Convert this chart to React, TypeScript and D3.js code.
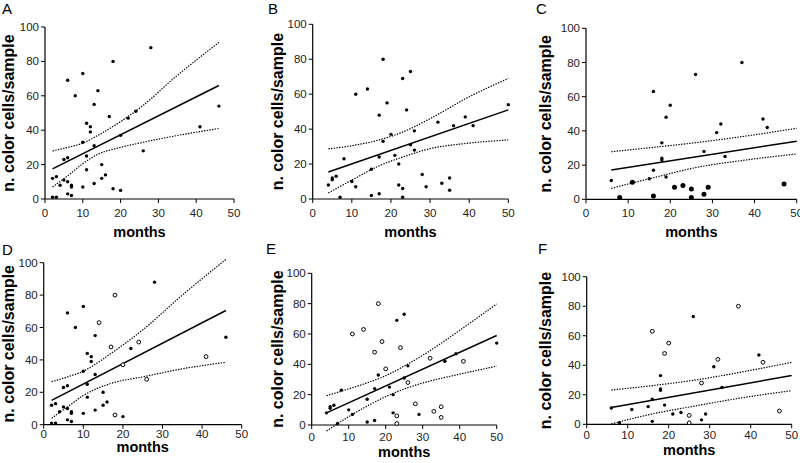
import React from 'react';
import * as d3 from 'd3';

// ---------- data ----------
// Panels A & D share the same samples
const monthsAD = [28,18,10,6,14,8,13,46,24,17,22,11,12,41,12,20,10,13,26,11,6,5,15,11,16,3,2,15,5,6,13,4,7,7,10,18,20,6,7,2,3];
const cellsAD  = [88,80,73,69,63,60,55,54,51,48,47,44,42,42,39,37,33,31,28,25,24,23,20,17,14,13,12,12,11,10,9,8,8,7,7,6,5,3,2,1,1];
const openD    = [0,1,0,0,1,0,0,0,1,1,0,0,0,1,0,1,0,0,1,0,0,0,0,0,0,0,0,0,0,0,0,0,0,0,0,1,0,0,0,0,0];

// Panels B & E share the same samples
const monthsBE = [18,25,23,14,11,19,50,24,17,39,32,36,41,26,20,18,25,26,21,17,8,22,15,28,6,35,5,5,10,11,4,22,33,29,23,35,17,15,7,23];
const cellsBE  = [80,73,69,63,60,55,54,51,48,47,44,42,42,39,37,33,31,28,25,24,23,20,17,14,13,12,12,11,10,7,8,8,9,7,6,5,3,2,1,1];
const openE    = [1,0,0,1,1,1,0,1,1,0,1,0,1,0,1,0,0,1,0,0,0,0,0,1,0,1,0,0,0,0,0,0,1,0,1,1,0,0,0,1];

// Panels C & F share the same samples
const monthsCF = [37,26,16,20,19,42,32,43,31,18,28,33,18,18,16,19,15,6,11,47,23,21,29,25,28,16,8,25];
const cellsCF  = [80,73,63,55,48,47,44,42,39,33,28,25,24,23,17,13,12,11,10,9,8,7,7,6,3,2,1,1];
const bigC     = [0,0,0,0,0,0,0,0,0,0,0,0,0,0,0,0,0,0,1,1,1,1,1,1,1,1,1,1];
const openF    = [1,0,1,1,1,0,1,1,0,0,1,0,0,0,0,0,0,0,0,1,0,0,0,1,0,0,0,1];

// Regression lines (end points) and 95% confidence bands
const fitXA = [2, 46];  const fitYA = [17.5, 66];
const fitXB = [4, 50];  const fitYB = [15.5, 51];
const fitXC = [6, 50];  const fitYC = [17.2, 34];
const fitXD = [2, 46];  const fitYD = [15, 70.5];
const fitXE = [4, 50];  const fitYE = [8, 59];
const fitXF = [6, 50];  const fitYF = [11.4, 33];

const bandXA = [2, 6, 10, 14, 20, 26, 34, 46];
const upperA = [28, 30, 32.5, 37, 45, 54.5, 70, 91];
const lowerA = [7, 13.5, 20.5, 26, 30, 33, 36.5, 41];

const bandXB = [4, 10, 17, 23, 30, 40, 50];
const upperB = [28.7, 30.5, 33.8, 38.3, 46, 58.5, 69];
const lowerB = [3.5, 10.8, 19, 24, 28.8, 32, 33.8];

const bandXC = [6, 16, 26, 38, 50];
const upperC = [27.8, 30.4, 33.1, 37, 41.5];
const lowerC = [6.4, 12.6, 18.5, 23, 26.5];

const bandXD = [2, 6, 10, 17, 25, 35, 46];
const upperD = [26.5, 29.5, 33, 44, 58.5, 80, 102];
const lowerD = [4, 11, 18, 25.5, 29.5, 34.5, 38.5];

const bandXE = [4, 10, 15, 20, 26, 32, 40, 50];
const upperE = [19.3, 23.8, 27.8, 32.5, 40.2, 49, 62.4, 79.8];
const lowerE = [-4, 5.5, 12.5, 18.7, 24.6, 29, 33.5, 38.8];

const bandXF = [6, 16, 26, 38, 50];
const upperF = [23.2, 26.2, 29.8, 35.5, 42];
const lowerF = [0.3, 7, 12.2, 18, 22.8];

const xTicks = [0, 10, 20, 30, 40, 50];
const yTicks = [0, 20, 40, 60, 80, 100];
const panelLetters = ['A', 'B', 'C', 'D', 'E', 'F'];
const yTitle = 'n. color cells/sample';
const xTitle = 'months';

// ---------- layout ----------
type Spec = {
  letter: string;
  xs: number[]; ys: number[]; open?: number[]; big?: number[];
  fitX: number[]; fitY: number[];
  bandX: number[]; upper: number[]; lower: number[];
  x0: number; x1: number; y0: number; y1: number;
  letterX: number; letterY: number; titleX: number; tickY: number; monthsY: number;
};

const FONT = '"Liberation Sans", Arial, Helvetica, sans-serif';

const specs: Spec[] = [
  { letter: panelLetters[0], xs: monthsAD, ys: cellsAD, fitX: fitXA, fitY: fitYA, bandX: bandXA, upper: upperA, lower: lowerA,
    x0: 45, x1: 234, y0: 199, y1: 27, letterX: 2, letterY: 14, titleX: 14, tickY: 216.5, monthsY: 237 },
  { letter: panelLetters[1], xs: monthsBE, ys: cellsBE, fitX: fitXB, fitY: fitYB, bandX: bandXB, upper: upperB, lower: lowerB,
    x0: 312.7, x1: 508.3, y0: 199, y1: 24.3, letterX: 268, letterY: 14, titleX: 283, tickY: 216.5, monthsY: 237 },
  { letter: panelLetters[2], xs: monthsCF, ys: cellsCF, big: bigC, fitX: fitXC, fitY: fitYC, bandX: bandXC, upper: upperC, lower: lowerC,
    x0: 586, x1: 796.7, y0: 199.3, y1: 28.3, letterX: 536, letterY: 14, titleX: 551, tickY: 216.5, monthsY: 237 },
  { letter: panelLetters[3], xs: monthsAD, ys: cellsAD, open: openD, fitX: fitXD, fitY: fitYD, bandX: bandXD, upper: upperD, lower: lowerD,
    x0: 43.7, x1: 241.7, y0: 424.7, y1: 262.7, letterX: 2, letterY: 255, titleX: 14, tickY: 438, monthsY: 452 },
  { letter: panelLetters[4], xs: monthsBE, ys: cellsBE, open: openE, fitX: fitXE, fitY: fitYE, bandX: bandXE, upper: upperE, lower: lowerE,
    x0: 311.7, x1: 496.7, y0: 425, y1: 273.3, letterX: 266, letterY: 254, titleX: 283, tickY: 441, monthsY: 457 },
  { letter: panelLetters[5], xs: monthsCF, ys: cellsCF, open: openF, fitX: fitXF, fitY: fitYF, bandX: bandXF, upper: upperF, lower: lowerF,
    x0: 586.7, x1: 791.7, y0: 424.3, y1: 276.7, letterX: 538, letterY: 254, titleX: 551, tickY: 439, monthsY: 455 },
];

function Panel({ s }: { s: Spec }) {
  const x = d3.scaleLinear().domain([0, 50]).range([s.x0, s.x1]);
  const y = d3.scaleLinear().domain([0, 100]).range([s.y0, s.y1]);
  const straight = d3.line<number>().x((_, i) => x(s.fitX[i])).y((d) => y(d));
  const band = (vals: number[]) =>
    d3.line<number>().x((_, i) => x(s.bandX[i])).y((d) => y(d)).curve(d3.curveMonotoneX)(vals) || '';
  const cy = (s.y0 + s.y1) / 2;
  const cx = (s.x0 + s.x1) / 2;
  return (
    <g>
      <text x={s.letterX} y={s.letterY} fontSize={15} fontFamily={FONT} fill="#000">{s.letter}</text>
      {/* axes */}
      <line x1={s.x0} x2={s.x1} y1={s.y0} y2={s.y0} stroke="#000" strokeWidth={1.2} />
      <line x1={s.x0} x2={s.x0} y1={s.y0} y2={s.y1} stroke="#000" strokeWidth={1.2} />
      {xTicks.map((t) => (
        <g key={'x' + t}>
          <line x1={x(t)} x2={x(t)} y1={s.y0} y2={s.y0 + 4} stroke="#000" strokeWidth={1} />
          <text x={x(t)} y={s.tickY} fontSize={11.5} fontFamily={FONT} textAnchor="middle" fill="#222">{t}</text>
        </g>
      ))}
      {yTicks.map((t) => (
        <g key={'y' + t}>
          <line x1={s.x0 - 4} x2={s.x0} y1={y(t)} y2={y(t)} stroke="#000" strokeWidth={1} />
          <text x={s.x0 - 6} y={y(t) + 4} fontSize={11.5} fontFamily={FONT} textAnchor="end" fill="#222">{t}</text>
        </g>
      ))}
      <text transform={`translate(${s.titleX},${cy}) rotate(-90)`} fontSize={16} fontWeight="bold" fontFamily={FONT} textAnchor="middle" fill="#000">{yTitle}</text>
      <text x={cx} y={s.monthsY} fontSize={14.5} fontWeight="bold" fontFamily={FONT} textAnchor="middle" fill="#000">{xTitle}</text>
      {/* confidence bands */}
      <path d={band(s.upper)} fill="none" stroke="#000" strokeWidth={1.2} strokeDasharray="1.4 1.3" />
      <path d={band(s.lower)} fill="none" stroke="#000" strokeWidth={1.2} strokeDasharray="1.4 1.3" />
      {/* regression line */}
      <path d={straight(s.fitY) || ''} fill="none" stroke="#000" strokeWidth={1.5} />
      {/* points */}
      {s.xs.map((v, i) => {
        const isOpen = s.open ? s.open[i] === 1 : false;
        const isBig = s.big ? s.big[i] === 1 : false;
        return isOpen ? (
          <circle key={i} cx={x(v)} cy={y(s.ys[i])} r={1.9} fill="#fff" stroke="#000" strokeWidth={1} />
        ) : (
          <circle key={i} cx={x(v)} cy={y(s.ys[i])} r={isBig ? 2.5 : 1.7} fill="#000" />
        );
      })}
    </g>
  );
}

export default function App() {
  return (
    <svg width={800} height={463} style={{ position: 'absolute', left: 0, top: 0, background: '#fff' }}>
      <rect width={800} height={463} fill="#fff" />
      {specs.map((s) => <Panel key={s.letter} s={s} />)}
    </svg>
  );
}
